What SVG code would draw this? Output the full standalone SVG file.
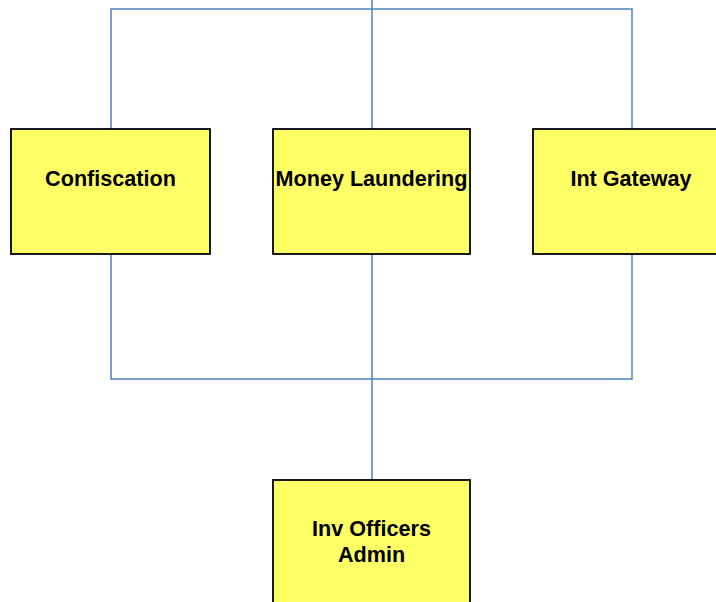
<svg xmlns="http://www.w3.org/2000/svg" width="716" height="602" viewBox="0 0 716 602">
  <style>
    .box { fill: #ffff66; stroke: #000000; stroke-width: 1.8; }
    .label { font-family: "Liberation Sans", Arial, sans-serif; font-weight: bold; font-size: 21.6px; fill: #000000; text-anchor: middle; }
    .conn { fill: none; stroke: #4f81bd; stroke-width: 1.5; }
  </style>
  <rect width="716" height="602" fill="#ffffff"/>
  <g id="connectors">
    <path class="conn" d="M372,0 V129"/>
    <path class="conn" d="M111,129 V9 H632 V129"/>
    <path class="conn" d="M111,255 V379 H632 V255"/>
    <path class="conn" d="M372,255 V480"/>
  </g>
  <g id="confiscation">
    <rect class="box" x="11" y="129" width="199" height="125"/>
    <text class="label" x="110.5" y="186">Confiscation</text>
  </g>
  <g id="money-laundering">
    <rect class="box" x="273" y="129" width="197" height="125"/>
    <text class="label" x="371.5" y="186">Money Laundering</text>
  </g>
  <g id="int-gateway">
    <rect class="box" x="533" y="129" width="199" height="125"/>
    <text class="label" x="631" y="186">Int Gateway</text>
  </g>
  <g id="inv-officers-admin">
    <rect class="box" x="273" y="480" width="197" height="130"/>
    <text class="label" x="371.5" y="536">Inv Officers</text>
    <text class="label" x="371.5" y="562">Admin</text>
  </g>
</svg>
